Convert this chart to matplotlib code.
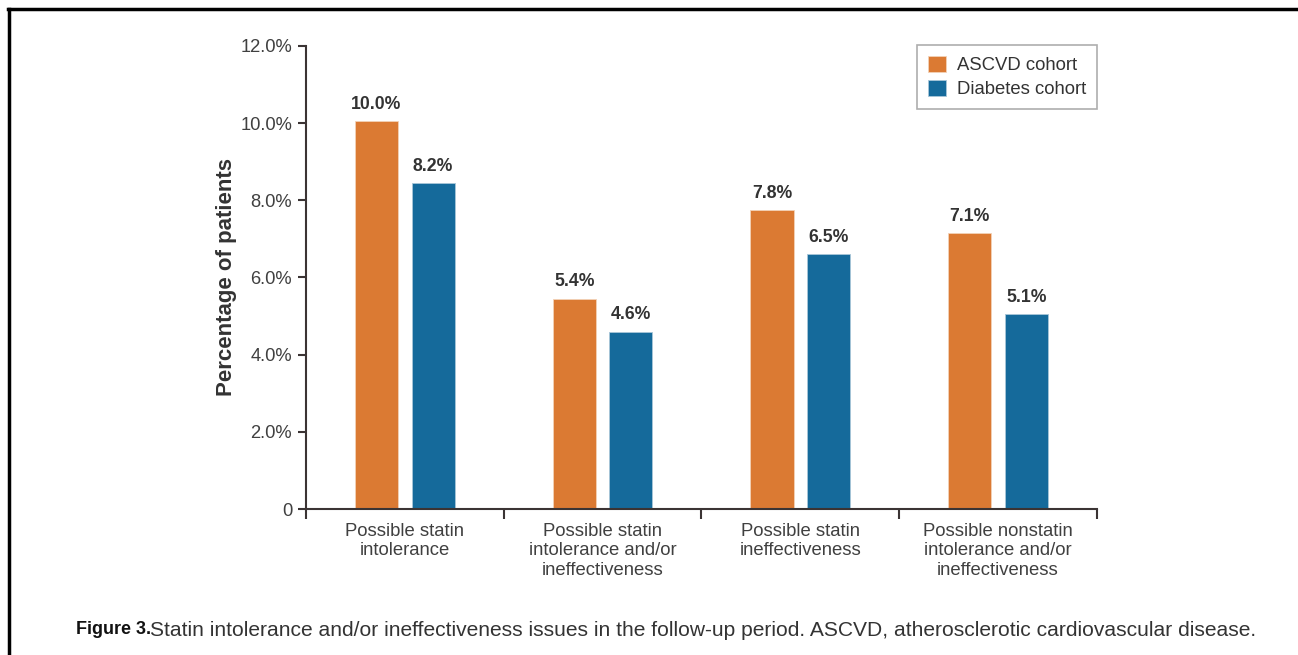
import matplotlib
matplotlib.use('Agg')
import matplotlib.pyplot as plt
from matplotlib.lines import Line2D
import numpy as np

plt.rcParams['font.family'] = ['Liberation Sans', 'DejaVu Sans']

categories = ['Possible statin\nintolerance',
              'Possible statin\nintolerance and/or\nineffectiveness',
              'Possible statin\nineffectiveness',
              'Possible nonstatin\nintolerance and/or\nineffectiveness']
# bar heights as drawn in the reference (%), labels as printed
ascvd = [10.05, 5.45, 7.75, 7.15]
diabetes = [8.45, 4.6, 6.6, 5.05]
ascvd_labels = ['10.0%', '5.4%', '7.8%', '7.1%']
diabetes_labels = ['8.2%', '4.6%', '6.5%', '5.1%']
series_names = ['ASCVD cohort', 'Diabetes cohort']
yticks = [0, 2, 4, 6, 8, 10, 12]
ytick_labels = ['0', '2.0%', '4.0%', '6.0%', '8.0%', '10.0%', '12.0%']

orange = '#DB7A33'
blue = '#156A9B'
axcol = '#3b3434'
txtcol = '#333333'

fig = plt.figure(figsize=(12.98, 6.55), dpi=100)
ax = fig.add_axes([0.2357, 0.2229, 0.6094, 0.7069])

x = np.arange(len(categories))
width = 0.218
off = 0.143
b1 = ax.bar(x - off, ascvd, width, color=orange, edgecolor='#f3d2b8', linewidth=0.6, label=series_names[0])
b2 = ax.bar(x + off, diabetes, width, color=blue, edgecolor='#a9c6d8', linewidth=0.6, label=series_names[1])

for rects, labs in [(b1, ascvd_labels), (b2, diabetes_labels)]:
    for r, lab in zip(rects, labs):
        ax.annotate(lab, xy=(r.get_x() + r.get_width() / 2, r.get_height()),
                    xytext=(0, 6), textcoords='offset points',
                    ha='center', va='bottom', fontsize=12.7, fontweight='bold', color=txtcol)

ax.set_xlim(-0.5, len(categories) - 0.5)
ax.set_ylim(0, 12)
ax.set_yticks(yticks)
ax.set_yticklabels(ytick_labels, fontsize=13.2, color='#404040')
ax.set_xticks(x)
ax.set_xticklabels(categories, fontsize=13.3, color='#404040', linespacing=1.2)
ax.set_xticks(np.arange(len(categories) + 1) - 0.5, minor=True)
ax.tick_params(axis='x', which='major', length=0, pad=10)
ax.tick_params(axis='x', which='minor', length=7, width=1.5, color=axcol, direction='out')
ax.tick_params(axis='y', length=6, width=1.5, color=axcol, pad=4)

for s in ['top', 'right']:
    ax.spines[s].set_visible(False)
for s in ['left', 'bottom']:
    ax.spines[s].set_color(axcol)
    ax.spines[s].set_linewidth(1.5)

ax.set_ylabel('Percentage of patients', fontsize=16, fontweight='bold', color=txtcol, labelpad=2)

leg = ax.legend(loc='upper right', bbox_to_anchor=(1.0, 1.003), borderaxespad=0,
                fontsize=13.3, frameon=True, fancybox=False, handlelength=1.0,
                handleheight=1.0, handletextpad=0.55, borderpad=0.6, labelspacing=0.3)
leg.get_frame().set_edgecolor('#9a9a9a')
leg.get_frame().set_linewidth(1.2)
for t in leg.get_texts():
    t.set_color(txtcol)

# page frame lines
fig.add_artist(Line2D([0.006, 1.0], [0.986, 0.986], transform=fig.transFigure, color='black', linewidth=2.5))
fig.add_artist(Line2D([0.0069, 0.0069], [0.0, 0.986], transform=fig.transFigure, color='black', linewidth=2.5))

# caption
fig.text(76 / 1298, 1 - 630 / 655, 'Figure 3.', fontsize=13,
         fontweight='bold', color='#111111', va='center', ha='left')
fig.text(150 / 1298, 1 - 630 / 655,
         'Statin intolerance and/or ineffectiveness issues in the follow-up period. '
         'ASCVD, atherosclerotic cardiovascular disease.',
         fontsize=15.1, color='#333333', va='center', ha='left')

fig.savefig('out.png', dpi=100)
